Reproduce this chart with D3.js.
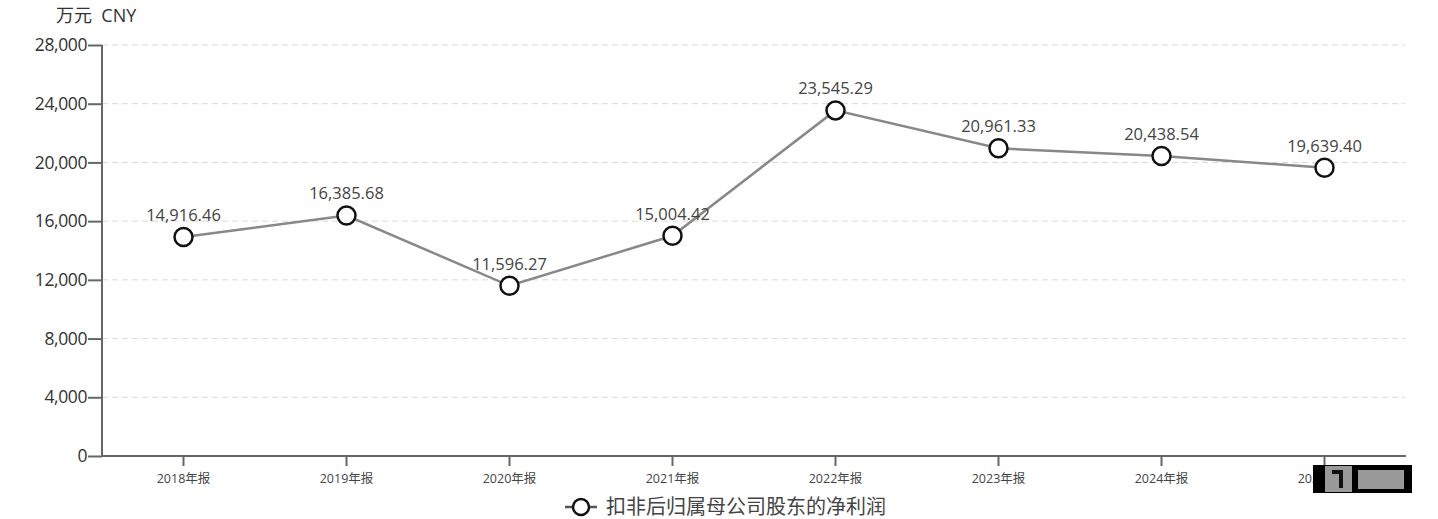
<!DOCTYPE html>
<html><head><meta charset="utf-8">
<script src="https://cdn.jsdelivr.net/npm/d3@7/dist/d3.min.js"></script>
<style>
body{margin:0;background:#fff;}
text{font-family:"Open Sans","Noto Sans CJK SC",sans-serif;}
</style></head>
<body><svg id="c" width="1438" height="519"></svg>
<script>
const categories = ["2018年报","2019年报","2020年报","2021年报","2022年报","2023年报","2024年报","2025年报"];
const values = [14916.46,16385.68,11596.27,15004.42,23545.29,20961.33,20438.54,19639.40];
const yTicks = [0,4000,8000,12000,16000,20000,24000,28000];
const seriesName = "扣非后归属母公司股东的净利润";
const unitLabel = "万元  CNY";

const svg = d3.select("#c");
const L=102, R=1406, T=45, B=456;
const x = d3.scaleBand().domain(categories).range([L,R]);
const y = d3.scaleLinear().domain([0,28000]).range([B,T]);
const fmt = d3.format(",.2f");

// grid
svg.append("g").selectAll("line").data(yTicks.filter(d=>d>0)).join("line")
  .attr("x1",L).attr("x2",R-1).attr("y1",d=>y(d)).attr("y2",d=>y(d))
  .attr("stroke","#d9d9d9").attr("stroke-width",1).attr("stroke-dasharray","6,4");

// y axis
const ya = svg.append("g").attr("transform",`translate(${L},0)`)
  .call(d3.axisLeft(y).tickValues(yTicks).tickSize(14).tickPadding(1).tickFormat(d3.format(",")));
ya.select(".domain").attr("stroke","#666").attr("stroke-width",2).attr("d",`M0,${T}V${B}`);
ya.selectAll(".tick line").attr("stroke","#666").attr("stroke-width",2);
ya.selectAll(".tick text").attr("fill","#333").style("font-size","17.5px").style("letter-spacing","-0.4px");

// x axis
const xa = svg.append("g").attr("transform",`translate(0,${B})`)
  .call(d3.axisBottom(x).tickSize(10).tickPadding(8));
xa.select(".domain").attr("stroke","#666").attr("stroke-width",2).attr("d",`M${L},0H${R}`);
xa.selectAll(".tick line").attr("stroke","#666").attr("stroke-width",2);
xa.selectAll(".tick text").attr("fill","#444").style("font-size","12.5px");

// unit
svg.append("text").attr("x",56).attr("y",22).attr("fill","#333").style("font-size","18px")
  .style("white-space","pre").attr("xml:space","preserve").text(unitLabel);

// line
const cx = d=>x(d)+x.bandwidth()/2;
svg.append("path").datum(values)
  .attr("d",d3.line().x((d,i)=>cx(categories[i])).y(d=>y(d)))
  .attr("fill","none").attr("stroke","#888").attr("stroke-width",2.5);

svg.append("g").selectAll("circle").data(values).join("circle")
  .attr("cx",(d,i)=>cx(categories[i])).attr("cy",d=>y(d)).attr("r",9)
  .attr("fill","#fff").attr("stroke","#111").attr("stroke-width",2.5);

svg.append("g").selectAll("text").data(values).join("text")
  .attr("x",(d,i)=>cx(categories[i])).attr("y",d=>y(d)-16)
  .attr("text-anchor","middle").attr("fill","#444").style("font-size","16.5px")
  .text(d=>fmt(d));

// legend
const lg = svg.append("g").attr("transform","translate(565,507)");
lg.append("line").attr("x1",0).attr("x2",32).attr("y1",0).attr("y2",0).attr("stroke","#555").attr("stroke-width",2.5);
lg.append("circle").attr("cx",16).attr("cy",0).attr("r",8).attr("fill","#fff").attr("stroke","#111").attr("stroke-width",2.5);
lg.append("text").attr("x",41).attr("y",7).attr("fill","#444").style("font-size","20px").text(seriesName);

// watermark overlay
const wm = svg.append("g").attr("transform","translate(1313,465)");
wm.append("rect").attr("width",99).attr("height",28).attr("fill","#000");
wm.append("rect").attr("x",12).attr("y",1).attr("width",27).attr("height",26).attr("fill","#999");
wm.append("path").attr("d","M19,7H28V23").attr("fill","none").attr("stroke","#111").attr("stroke-width",4);
wm.append("rect").attr("x",45).attr("y",5).attr("width",46).attr("height",19).attr("fill","#999");
</script></body></html>
